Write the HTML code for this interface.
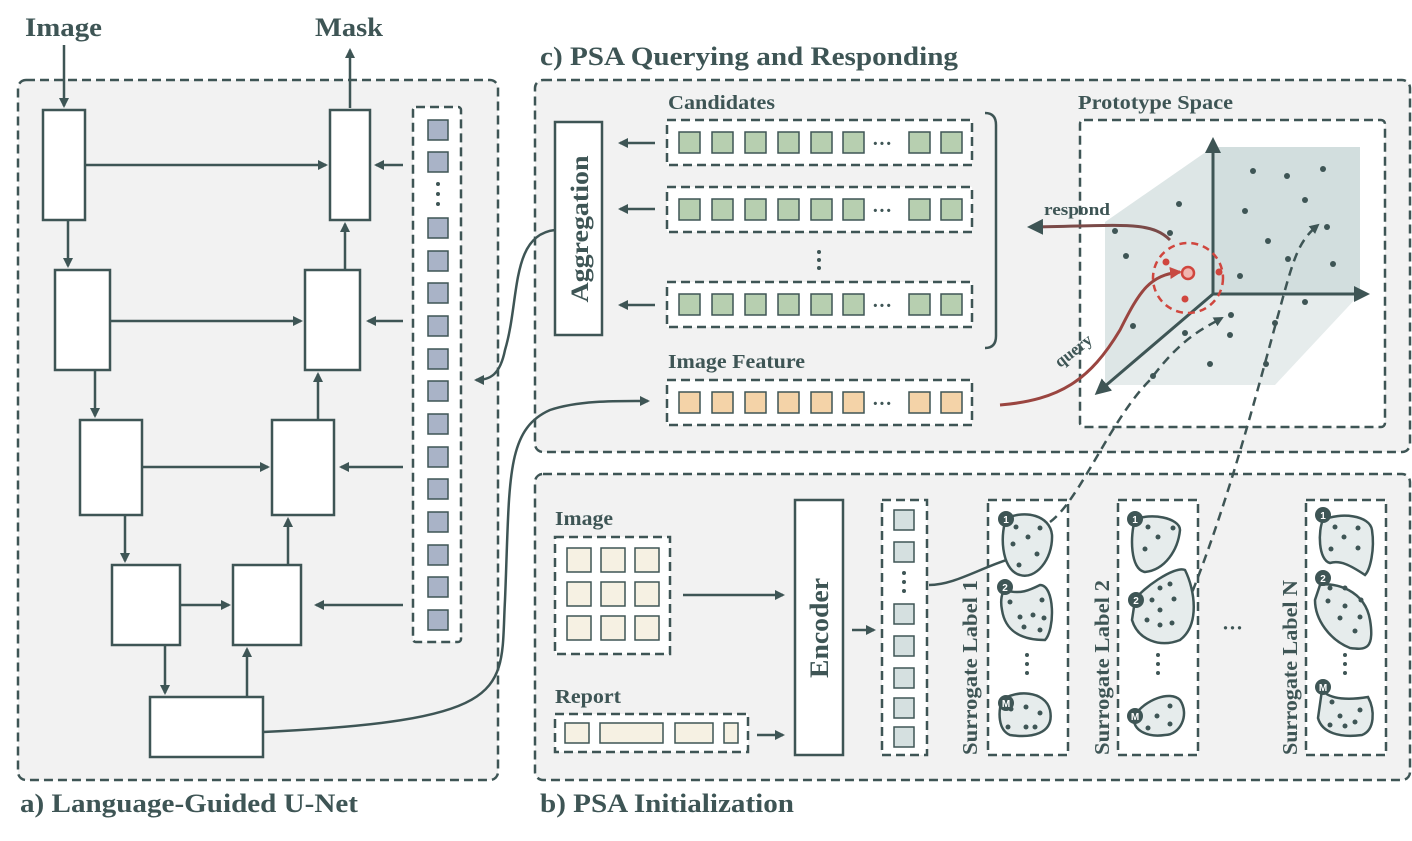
<!DOCTYPE html>
<html><head><meta charset="utf-8"><style>
body{margin:0;background:#fff}
svg{display:block;font-family:"Liberation Serif",serif}
</style></head><body>
<svg width="1412" height="841" viewBox="0 0 1412 841">
<defs>
<marker id="ah" markerWidth="10" markerHeight="10" refX="8" refY="5" orient="auto" markerUnits="userSpaceOnUse"><path d="M0,0 L10,5 L0,10 z" fill="#3e5555"/></marker>
<marker id="ahb" markerWidth="16" markerHeight="16" refX="13" refY="8" orient="auto" markerUnits="userSpaceOnUse"><path d="M0,0 L16,8 L0,16 z" fill="#3e5555"/></marker>
<marker id="ahr" markerWidth="12" markerHeight="12" refX="10" refY="6" orient="auto" markerUnits="userSpaceOnUse"><path d="M0,0 L12,6 L0,12 z" fill="#c84a42"/></marker>
</defs>
<g fill="none" stroke="#3e5555" stroke-width="2.5">
<rect x="18" y="80" width="480" height="700" rx="8" fill="#f2f2f2" stroke-dasharray="9,5"/>
<rect x="535" y="80" width="875" height="372" rx="8" fill="#f2f2f2" stroke-dasharray="9,5"/>
<rect x="535" y="474" width="875" height="306" rx="8" fill="#f2f2f2" stroke-dasharray="9,5"/>
</g>
<g font-weight="bold" fill="#3e5555" font-size="26">
<text x="25" y="36" textLength="77" lengthAdjust="spacingAndGlyphs">Image</text><text x="315" y="36" textLength="68" lengthAdjust="spacingAndGlyphs">Mask</text>
<text x="540" y="65" textLength="418" lengthAdjust="spacingAndGlyphs">c) PSA Querying and Responding</text>
<text x="20" y="812" textLength="338" lengthAdjust="spacingAndGlyphs">a) Language-Guided U-Net</text>
<text x="540" y="812" textLength="254" lengthAdjust="spacingAndGlyphs">b) PSA Initialization</text>
</g>
<!-- U-Net -->
<g fill="#fff" stroke="#3e5555" stroke-width="2.5">
<rect x="43" y="110" width="42" height="110"/><rect x="55" y="270" width="55" height="100"/>
<rect x="80" y="420" width="62" height="95"/><rect x="112" y="565" width="68" height="80"/>
<rect x="150" y="697" width="113" height="60"/><rect x="233" y="565" width="68" height="80"/>
<rect x="272" y="420" width="62" height="95"/><rect x="305" y="270" width="55" height="100"/>
<rect x="330" y="110" width="40" height="110"/>
<rect x="413" y="107" width="48" height="535" rx="3" stroke-dasharray="9,5"/>
</g>
<g stroke="#3e5555" stroke-width="2.5" fill="none" marker-end="url(#ah)">
<line x1="64" y1="45" x2="64" y2="106"/><line x1="350" y1="108" x2="350" y2="50"/>
<line x1="85" y1="165" x2="326" y2="165"/><line x1="110" y1="321" x2="301" y2="321"/>
<line x1="142" y1="467" x2="268" y2="467"/><line x1="180" y1="605" x2="229" y2="605"/>
<line x1="68" y1="220" x2="68" y2="266"/><line x1="95" y1="370" x2="95" y2="416"/>
<line x1="125" y1="515" x2="125" y2="561"/><line x1="165" y1="645" x2="165" y2="693"/>
<line x1="247" y1="697" x2="247" y2="649"/><line x1="288" y1="565" x2="288" y2="519"/>
<line x1="318" y1="420" x2="318" y2="374"/><line x1="345" y1="270" x2="345" y2="224"/>
<line x1="403" y1="165" x2="376" y2="165"/><line x1="403" y1="321" x2="368" y2="321"/>
<line x1="403" y1="467" x2="341" y2="467"/><line x1="403" y1="605" x2="316" y2="605"/>
<path d="M555,230 C510,235 520,300 505,350 C500,375 490,380 476,380"/>
<path d="M263,732 C520,720 500,690 505,600 C510,480 505,430 550,410 C580,400 620,401 648,401"/>
</g>
<g fill="#a9b3c7" stroke="#3e5555" stroke-width="1.5">
<rect x="428" y="120" width="20" height="20"/><rect x="428" y="152" width="20" height="20"/>
<rect x="428" y="218" width="20" height="20"/><rect x="428" y="251" width="20" height="20"/><rect x="428" y="283" width="20" height="20"/><rect x="428" y="316" width="20" height="20"/><rect x="428" y="349" width="20" height="20"/><rect x="428" y="381" width="20" height="20"/><rect x="428" y="414" width="20" height="20"/><rect x="428" y="447" width="20" height="20"/><rect x="428" y="479" width="20" height="20"/><rect x="428" y="512" width="20" height="20"/><rect x="428" y="545" width="20" height="20"/><rect x="428" y="577" width="20" height="20"/><rect x="428" y="610" width="20" height="20"/>
</g>
<g fill="#3e5555"><circle cx="438" cy="184" r="2"/><circle cx="438" cy="194" r="2"/><circle cx="438" cy="204" r="2"/></g>
<!-- Panel c -->
<rect x="555" y="122" width="47" height="213" fill="#fff" stroke="#3e5555" stroke-width="2.5"/>
<text transform="translate(588,229) rotate(-90)" text-anchor="middle" font-size="25" font-weight="bold" fill="#3e5555" textLength="147" lengthAdjust="spacingAndGlyphs">Aggregation</text>
<g font-weight="bold" fill="#3e5555" font-size="20">
<text x="668" y="109" textLength="107" lengthAdjust="spacingAndGlyphs">Candidates</text><text x="668" y="368" textLength="137" lengthAdjust="spacingAndGlyphs">Image Feature</text><text x="1078" y="109" textLength="155" lengthAdjust="spacingAndGlyphs">Prototype Space</text>
</g>
<g stroke="#3e5555" stroke-width="2.5" fill="#fff" stroke-dasharray="9,5">
<rect x="667" y="120" width="305" height="45"/><rect x="667" y="187" width="305" height="45"/>
<rect x="667" y="282" width="305" height="45"/><rect x="667" y="380" width="305" height="45"/>
<rect x="1080" y="120" width="305" height="307" rx="4"/>
</g>
<g id="row" fill="#b7cfb0" stroke="#3e5555" stroke-width="1.5">
<rect x="679" y="132" width="21" height="21"/><rect x="712" y="132" width="21" height="21"/><rect x="745" y="132" width="21" height="21"/><rect x="778" y="132" width="21" height="21"/><rect x="811" y="132" width="21" height="21"/><rect x="843" y="132" width="21" height="21"/><rect x="909" y="132" width="21" height="21"/><rect x="941" y="132" width="21" height="21"/>
</g>
<use href="#row" y="67"/><use href="#row" y="162"/>
<g fill="#f4d3a8" stroke="#3e5555" stroke-width="1.5">
<rect x="679" y="392" width="21" height="21"/><rect x="712" y="392" width="21" height="21"/><rect x="745" y="392" width="21" height="21"/><rect x="778" y="392" width="21" height="21"/><rect x="811" y="392" width="21" height="21"/><rect x="843" y="392" width="21" height="21"/><rect x="909" y="392" width="21" height="21"/><rect x="941" y="392" width="21" height="21"/>
</g>
<g fill="#3e5555" font-size="20" font-weight="bold">
<text x="872" y="150">···</text><text x="872" y="217">···</text><text x="872" y="312">···</text><text x="872" y="410">···</text>
<circle cx="819" cy="252" r="2"/><circle cx="819" cy="260" r="2"/><circle cx="819" cy="268" r="2"/>
</g>
<g stroke="#3e5555" stroke-width="2.5" fill="none" marker-end="url(#ah)">
<line x1="655" y1="143" x2="620" y2="143"/><line x1="655" y1="209" x2="620" y2="209"/><line x1="655" y1="305" x2="620" y2="305"/>
</g>
<path d="M985,113 Q996,113 996,125 L996,336 Q996,348 985,348" fill="none" stroke="#3e5555" stroke-width="2.5"/>
<!-- prototype space -->
<polygon points="1105,222 1213,147 1213,294 1105,385" fill="#dde6e6"/>
<polygon points="1213,147 1360,147 1360,294 1213,294" fill="#d2dede"/>
<polygon points="1213,294 1360,294 1275,385 1105,385" fill="#e6ecec"/>
<g stroke="#3e5555" stroke-width="3" fill="none" marker-end="url(#ahb)">
<line x1="1213" y1="294" x2="1213" y2="140"/><line x1="1213" y1="294" x2="1367" y2="294"/><line x1="1213" y1="294" x2="1097" y2="393"/>
</g>
<g fill="#3e5555">
<circle cx="1253" cy="171" r="3"/><circle cx="1287" cy="176" r="3"/><circle cx="1323" cy="169" r="3"/><circle cx="1305" cy="200" r="3"/><circle cx="1245" cy="211" r="3"/><circle cx="1327" cy="227" r="3"/><circle cx="1268" cy="241" r="3"/><circle cx="1288" cy="259" r="3"/><circle cx="1333" cy="264" r="3"/><circle cx="1240" cy="276" r="3"/><circle cx="1179" cy="204" r="3"/><circle cx="1115" cy="231" r="3"/><circle cx="1170" cy="233" r="3"/><circle cx="1126" cy="256" r="3"/><circle cx="1305" cy="302" r="3"/><circle cx="1231" cy="315" r="3"/><circle cx="1275" cy="323" r="3"/><circle cx="1230" cy="335" r="3"/><circle cx="1185" cy="333" r="3"/><circle cx="1133" cy="326" r="3"/><circle cx="1210" cy="364" r="3"/><circle cx="1266" cy="364" r="3"/><circle cx="1153" cy="376" r="3"/>
</g>
<circle cx="1188" cy="278" r="35" fill="none" stroke="#d0463e" stroke-width="2.5" stroke-dasharray="7,5"/>
<g fill="#d0463e"><circle cx="1166" cy="262" r="3.5"/><circle cx="1219" cy="272" r="3.5"/><circle cx="1185" cy="299" r="3.5"/></g>
<circle cx="1188" cy="273" r="6" fill="#f0b6b0" stroke="#d0463e" stroke-width="2.5"/>
<path d="M1170,240 C1150,220 1120,226 1030,227" fill="none" stroke="#7a4a48" stroke-width="3" marker-end="url(#ahb)"/>
<path d="M1000,405 C1060,400 1090,380 1120,330 C1140,290 1150,275 1180,272" fill="none" stroke="#9a4540" stroke-width="3" marker-end="url(#ahr)"/>
<text x="1044" y="215" font-size="17" font-weight="bold" fill="#3e5555" textLength="66" lengthAdjust="spacingAndGlyphs">respond</text>
<text transform="translate(1060,368) rotate(-38)" font-size="17" font-weight="bold" fill="#3e5555">query</text>
<!-- panel b -->
<g font-weight="bold" fill="#3e5555" font-size="20"><text x="555" y="525" textLength="58" lengthAdjust="spacingAndGlyphs">Image</text><text x="555" y="703" textLength="66" lengthAdjust="spacingAndGlyphs">Report</text></g>
<g stroke="#3e5555" stroke-width="2.5" fill="#fff" stroke-dasharray="9,5">
<rect x="555" y="537" width="115" height="117"/><rect x="555" y="714" width="193" height="38"/>
<rect x="882" y="500" width="45" height="255"/>
<rect x="988" y="500" width="80" height="255"/><rect x="1118" y="500" width="80" height="255"/><rect x="1306" y="500" width="80" height="255"/>
</g>
<g fill="#f6f1e3" stroke="#3e5555" stroke-width="1.5">
<rect x="567" y="548" width="24" height="24"/><rect x="601" y="548" width="24" height="24"/><rect x="635" y="548" width="24" height="24"/>
<rect x="567" y="582" width="24" height="24"/><rect x="601" y="582" width="24" height="24"/><rect x="635" y="582" width="24" height="24"/>
<rect x="567" y="616" width="24" height="24"/><rect x="601" y="616" width="24" height="24"/><rect x="635" y="616" width="24" height="24"/>
<rect x="565" y="723" width="24" height="20"/><rect x="600" y="723" width="63" height="20"/><rect x="675" y="723" width="38" height="20"/><rect x="724" y="723" width="14" height="20"/>
</g>
<rect x="795" y="500" width="48" height="255" fill="#fff" stroke="#3e5555" stroke-width="2.5"/>
<text transform="translate(828,628) rotate(-90)" text-anchor="middle" font-size="26" font-weight="bold" fill="#3e5555" textLength="100" lengthAdjust="spacingAndGlyphs">Encoder</text>
<g fill="#d5e0e0" stroke="#3e5555" stroke-width="1.5">
<rect x="894" y="510" width="20" height="20"/><rect x="894" y="542" width="20" height="20"/><rect x="894" y="604" width="20" height="20"/><rect x="894" y="636" width="20" height="20"/><rect x="894" y="668" width="20" height="20"/><rect x="894" y="698" width="20" height="20"/><rect x="894" y="727" width="20" height="20"/>
</g>
<g fill="#3e5555"><circle cx="904" cy="573" r="2"/><circle cx="904" cy="582" r="2"/><circle cx="904" cy="591" r="2"/></g>
<g stroke="#3e5555" stroke-width="2.5" fill="none" marker-end="url(#ah)">
<line x1="683" y1="595" x2="783" y2="595"/><line x1="757" y1="735" x2="783" y2="735"/><line x1="852" y1="630" x2="874" y2="630"/>
<path d="M929,585 C960,585 990,560 1035,553"/>
</g>
<g stroke="#3e5555" stroke-width="2.5" fill="none" stroke-dasharray="9,6" marker-end="url(#ah)">
<path d="M1050,522 C1080,500 1110,420 1150,380 C1180,340 1200,330 1222,318"/>
<path d="M1187,605 C1230,500 1260,380 1285,290 C1295,255 1300,240 1318,225"/>
</g>
<g fill="#3e5555" font-size="21" font-weight="bold">
<text transform="translate(977,755) rotate(-90)" textLength="175" lengthAdjust="spacingAndGlyphs">Surrogate Label 1</text>
<text transform="translate(1109,755) rotate(-90)" textLength="175" lengthAdjust="spacingAndGlyphs">Surrogate Label 2</text>
<text transform="translate(1297,755) rotate(-90)" textLength="175" lengthAdjust="spacingAndGlyphs">Surrogate Label N</text>
<text x="1222" y="635">···</text>
</g>
<!-- blobs -->
<g fill="#e6ecec" stroke="#3e5555" stroke-width="2.5">
<path d="M1007,518 C1025,510 1050,515 1052,535 C1053,560 1035,580 1020,575 C1000,570 1000,530 1007,518z"/>
<path d="M1005,590 C1020,595 1030,590 1040,585 C1055,585 1055,630 1045,640 C1020,640 1005,630 1002,610 C1000,600 1002,592 1005,590z"/>
<path d="M1002,700 C1015,690 1045,690 1050,710 C1055,735 1030,738 1010,735 C998,730 998,712 1002,700z"/>
<path d="M1135,520 C1150,512 1180,518 1180,530 C1178,550 1165,570 1145,572 C1130,570 1130,535 1135,520z"/>
<path d="M1135,600 C1140,590 1175,565 1185,570 C1195,590 1200,625 1180,640 C1160,648 1138,640 1132,620z"/>
<path d="M1135,715 C1145,700 1170,690 1180,700 C1190,715 1180,735 1165,735 C1145,738 1130,728 1135,715z"/>
<path d="M1323,520 C1340,512 1370,515 1372,530 C1375,550 1370,570 1365,575 C1350,565 1340,560 1330,563 C1318,560 1318,530 1323,520z"/>
<path d="M1320,585 C1335,582 1365,590 1370,620 C1375,650 1365,650 1350,648 C1330,640 1315,620 1315,600z"/>
<path d="M1322,690 C1330,700 1350,700 1368,697 C1375,710 1375,730 1362,735 C1340,738 1322,733 1318,718z"/>
</g>
<g fill="#3e5555">
<circle cx="1016" cy="527" r="2.5"/><circle cx="1040" cy="528" r="2.5"/><circle cx="1028" cy="537" r="2.5"/><circle cx="1013" cy="544" r="2.5"/><circle cx="1037" cy="554" r="2.5"/><circle cx="1019" cy="565" r="2.5"/>
<circle cx="1010" cy="602" r="2.5"/><circle cx="1042" cy="600" r="2.5"/><circle cx="1020" cy="617" r="2.5"/><circle cx="1033" cy="615" r="2.5"/><circle cx="1044" cy="618" r="2.5"/><circle cx="1024" cy="627" r="2.5"/><circle cx="1040" cy="630" r="2.5"/>
<circle cx="1011" cy="709" r="2.5"/><circle cx="1026" cy="707" r="2.5"/><circle cx="1040" cy="713" r="2.5"/><circle cx="1008" cy="727" r="2.5"/><circle cx="1026" cy="727" r="2.5"/><circle cx="1035" cy="727" r="2.5"/>
<circle cx="1148" cy="527" r="2.5"/><circle cx="1173" cy="528" r="2.5"/><circle cx="1158" cy="537" r="2.5"/><circle cx="1145" cy="549" r="2.5"/>
<circle cx="1160" cy="588" r="2.5"/><circle cx="1170" cy="584" r="2.5"/><circle cx="1152" cy="600" r="2.5"/><circle cx="1174" cy="599" r="2.5"/><circle cx="1160" cy="610" r="2.5"/><circle cx="1147" cy="620" r="2.5"/><circle cx="1160" cy="625" r="2.5"/><circle cx="1172" cy="623" r="2.5"/>
<circle cx="1170" cy="706" r="2.5"/><circle cx="1157" cy="716" r="2.5"/><circle cx="1170" cy="724" r="2.5"/><circle cx="1148" cy="728" r="2.5"/>
<circle cx="1335" cy="527" r="2.5"/><circle cx="1358" cy="528" r="2.5"/><circle cx="1344" cy="537" r="2.5"/><circle cx="1331" cy="549" r="2.5"/><circle cx="1358" cy="548" r="2.5"/>
<circle cx="1330" cy="588" r="2.5"/><circle cx="1345" cy="588" r="2.5"/><circle cx="1328" cy="601" r="2.5"/><circle cx="1345" cy="606" r="2.5"/><circle cx="1361" cy="600" r="2.5"/><circle cx="1340" cy="618" r="2.5"/><circle cx="1360" cy="617" r="2.5"/><circle cx="1355" cy="631" r="2.5"/>
<circle cx="1332" cy="702" r="2.5"/><circle cx="1360" cy="710" r="2.5"/><circle cx="1340" cy="716" r="2.5"/><circle cx="1330" cy="725" r="2.5"/><circle cx="1345" cy="726" r="2.5"/><circle cx="1355" cy="722" r="2.5"/>
<circle cx="1027" cy="655" r="2"/><circle cx="1027" cy="664" r="2"/><circle cx="1027" cy="673" r="2"/>
<circle cx="1158" cy="655" r="2"/><circle cx="1158" cy="664" r="2"/><circle cx="1158" cy="673" r="2"/>
<circle cx="1345" cy="655" r="2"/><circle cx="1345" cy="664" r="2"/><circle cx="1345" cy="673" r="2"/>
<circle cx="1006" cy="519" r="8"/><circle cx="1005" cy="587" r="8"/><circle cx="1006" cy="703" r="8"/>
<circle cx="1135" cy="519" r="8"/><circle cx="1136" cy="600" r="8"/><circle cx="1135" cy="716" r="8"/>
<circle cx="1323" cy="515" r="8"/><circle cx="1323" cy="578" r="8"/><circle cx="1323" cy="687" r="8"/>
</g>
<g fill="#fff" font-family="Liberation Sans,sans-serif" font-weight="bold" font-size="10" text-anchor="middle">
<text x="1006" y="523">1</text><text x="1005" y="591">2</text><text x="1006" y="707">M</text>
<text x="1135" y="523">1</text><text x="1136" y="604">2</text><text x="1135" y="720">M</text>
<text x="1323" y="519">1</text><text x="1323" y="582">2</text><text x="1323" y="691">M</text>
</g>
</svg>
</body></html>
